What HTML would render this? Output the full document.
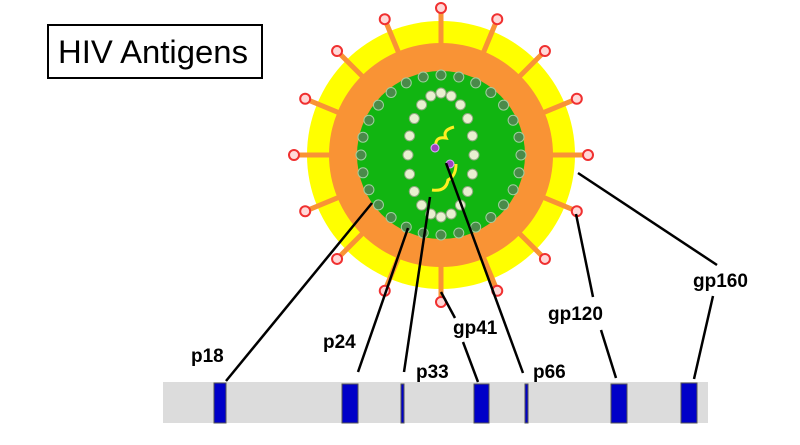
<!DOCTYPE html>
<html><head><meta charset="utf-8"><style>body{margin:0;background:#fff}svg{display:block}</style></head>
<body>
<svg width="800" height="445" viewBox="0 0 800 445" xmlns="http://www.w3.org/2000/svg" font-family="Liberation Sans, sans-serif">
<rect x="48" y="25" width="214" height="53" fill="#fff" stroke="#000" stroke-width="2"/>
<text x="58" y="63" font-size="32" textLength="190" lengthAdjust="spacingAndGlyphs">HIV Antigens</text>
<circle cx="441" cy="155" r="134" fill="#ffff00"/>
<g id="spikes"></g>
<circle cx="441" cy="155" r="112" fill="#f99335"/>
<circle cx="441" cy="155" r="84" fill="#11b511"/>
<g id="dots"></g>
<path d="M436,148 q-2,-12 10,-10 q-4,-8 8,-11" stroke="#ffee22" stroke-width="3" fill="none"/>
<path d="M432,190 q14,2 16,-10 q8,-4 8,-16" stroke="#ffee22" stroke-width="3" fill="none"/>
<circle cx="435" cy="148" r="4" fill="#a040c0" stroke="#e0b0ff"/>
<circle cx="450" cy="164" r="4" fill="#a040c0" stroke="#e0b0ff"/>
<g id="bulbs"></g>
<rect x="163" y="382" width="545" height="41" fill="#dcdcdc"/>
<g fill="#0000c8" stroke="#555" stroke-width="1">
<rect x="214" y="383" width="12" height="40"/>
<rect x="342" y="384" width="16" height="39"/>
<rect x="401" y="384" width="3" height="39"/>
<rect x="474" y="384" width="15" height="39"/>
<rect x="525" y="384" width="3" height="39"/>
<rect x="611" y="384" width="16" height="39"/>
<rect x="681" y="383" width="16" height="40"/>
</g>
<g stroke="#000" stroke-width="2.5" fill="none">
<line x1="226" y1="381" x2="372" y2="203"/>
<line x1="358" y1="372" x2="408" y2="228"/>
<line x1="404" y1="372" x2="430" y2="197"/>
<line x1="441" y1="292" x2="455" y2="318"/>
<line x1="463" y1="342" x2="478" y2="382"/>
<line x1="523" y1="373" x2="446" y2="163"/>
<line x1="576" y1="214" x2="593" y2="297"/>
<line x1="601" y1="330" x2="616" y2="378"/>
<line x1="578" y1="173" x2="717" y2="265"/>
<line x1="713" y1="296" x2="694" y2="379"/>
</g>
<g font-size="19" font-weight="bold" fill="#000">
<text x="191" y="362">p18</text>
<text x="323" y="348">p24</text>
<text x="416" y="378">p33</text>
<text x="453" y="334">gp41</text>
<text x="533" y="378">p66</text>
<text x="548" y="320">gp120</text>
<text x="693" y="287">gp160</text>
</g>
<script>
var ns="http://www.w3.org/2000/svg",cx=441,cy=155;
var sp=document.getElementById("spikes"),bu=document.getElementById("bulbs");
for(var i=0;i<16;i++){var a=i*Math.PI/8;var c=Math.cos(a),s=Math.sin(a);
var l=document.createElementNS(ns,"line");l.setAttribute("x1",cx+110*c);l.setAttribute("y1",cy+110*s);l.setAttribute("x2",cx+143*c);l.setAttribute("y2",cy+143*s);l.setAttribute("stroke","#f99335");l.setAttribute("stroke-width","5");sp.appendChild(l);
var b=document.createElementNS(ns,"circle");b.setAttribute("cx",cx+147*c);b.setAttribute("cy",cy+147*s);b.setAttribute("r","5");b.setAttribute("fill","#ffd8d8");b.setAttribute("stroke","#f03030");b.setAttribute("stroke-width","2");bu.appendChild(b);}
var d=document.getElementById("dots");
for(var i=0;i<28;i++){var a=i*2*Math.PI/28;var e=document.createElementNS(ns,"circle");e.setAttribute("cx",cx+80*Math.cos(a));e.setAttribute("cy",cy+80*Math.sin(a));e.setAttribute("r","5");e.setAttribute("fill","#4a8a4a");e.setAttribute("stroke","#a0d0a0");d.appendChild(e);}
for(var i=0;i<20;i++){var a=i*2*Math.PI/20;var e=document.createElementNS(ns,"circle");e.setAttribute("cx",cx+33*Math.cos(a));e.setAttribute("cy",cy+62*Math.sin(a));e.setAttribute("r","5");e.setAttribute("fill","#e8f0d0");e.setAttribute("stroke","#90a880");d.appendChild(e);}
</script>
</svg>
</body></html>
